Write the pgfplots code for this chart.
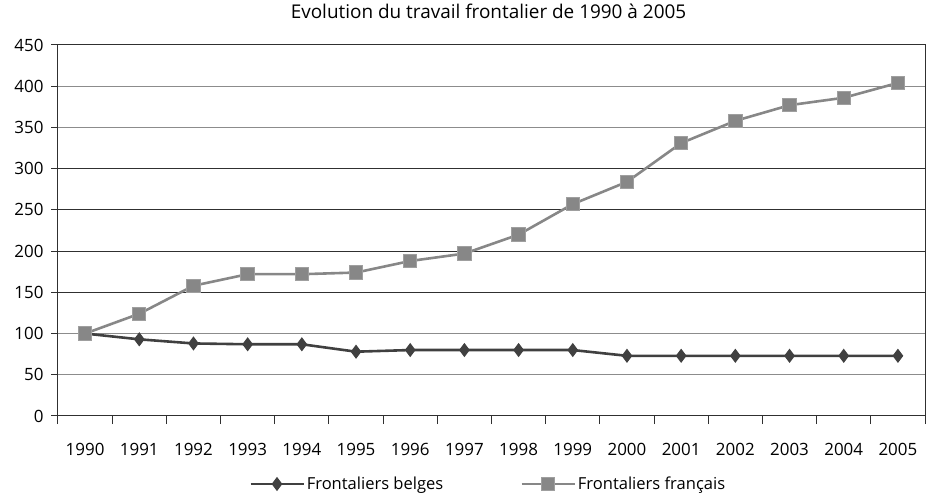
\documentclass[border=0pt]{standalone}
\usepackage{pgfplots}
\pgfplotsset{compat=1.18}
\usepackage{fontspec}
\setmainfont{Open Sans}
\definecolor{belg}{HTML}{404040}
\definecolor{fran}{HTML}{878787}
\definecolor{gridl}{HTML}{8C8C8C}
\definecolor{gridd}{HTML}{303030}
\begin{document}
\begin{tikzpicture}
\begin{axis}[
  at={(58bp,79bp)}, anchor=south west,
  scale only axis, width=867bp, height=371bp,
  xmin=-0.5, xmax=15.5, ymin=0, ymax=450,
  xtick={0,...,15},
  xticklabels={1990,1991,1992,1993,1994,1995,1996,1997,1998,1999,2000,2001,2002,2003,2004,2005},
  major x tick style={draw=none},
  minor xtick={-0.5,0.5,...,15.5},
  minor tick length=8bp,
  ytick={0,50,...,450},
  extra y ticks={150,200,250,300,450},
  extra y tick labels={},
  extra y tick style={grid style={gridd, line width=1bp}},
  major tick length=7bp,
  tick align=outside,
  tick pos=left,
  ymajorgrids, grid style={gridl, line width=1bp},
  axis line style={gridd, line width=1bp},
  tick style={gridd, line width=1bp},
  tick label style={font=\fontsize{17}{20}\selectfont},
  /pgf/number format/assume math mode=true,
  xticklabel style={yshift=-17bp},
  yticklabel style={xshift=-4bp},
  title={Evolution du travail frontalier de 1990 à 2005},
  title style={font=\fontsize{19}{22}\selectfont, at={(0.5,1)}, anchor=center, yshift=28bp, xshift=-3bp},
  legend columns=2,
  legend cell align=left,
  legend style={at={(0.2203,-0.1833)}, anchor=west, draw=none, fill=none,
    font=\fontsize{16.6}{19}\selectfont, inner sep=0pt,
    /tikz/every even column/.append style={column sep=75bp}},
  legend image code/.code={\draw[mark repeat=2,mark phase=2] plot coordinates {(0bp,0bp) (26.5bp,0bp) (53bp,0bp)};},
]
\addplot[color=belg, line width=2.6bp, mark=diamond*, mark size=6.3bp,
  mark options={solid, fill=belg, draw=belg, line width=1bp}]
  coordinates {(0,100)(1,93)(2,88)(3,87)(4,87)(5,78)(6,80)(7,80)(8,80)(9,80)(10,73)(11,73)(12,73)(13,73)(14,73)(15,73)};
\addlegendentry{Frontaliers belges}
\addplot[color=fran, line width=2.6bp, mark=square*, mark size=6.7bp,
  mark options={solid, fill=fran, draw=fran!80!white, line width=1bp}]
  coordinates {(0,100)(1,124)(2,158)(3,172)(4,172)(5,174)(6,188)(7,197)(8,220)(9,257)(10,284)(11,331)(12,358)(13,377)(14,386)(15,404)};
\addlegendentry{Frontaliers français}
\end{axis}
\pgfresetboundingbox
\useasboundingbox (0,0) rectangle (926bp,495bp);
\end{tikzpicture}
\end{document}
